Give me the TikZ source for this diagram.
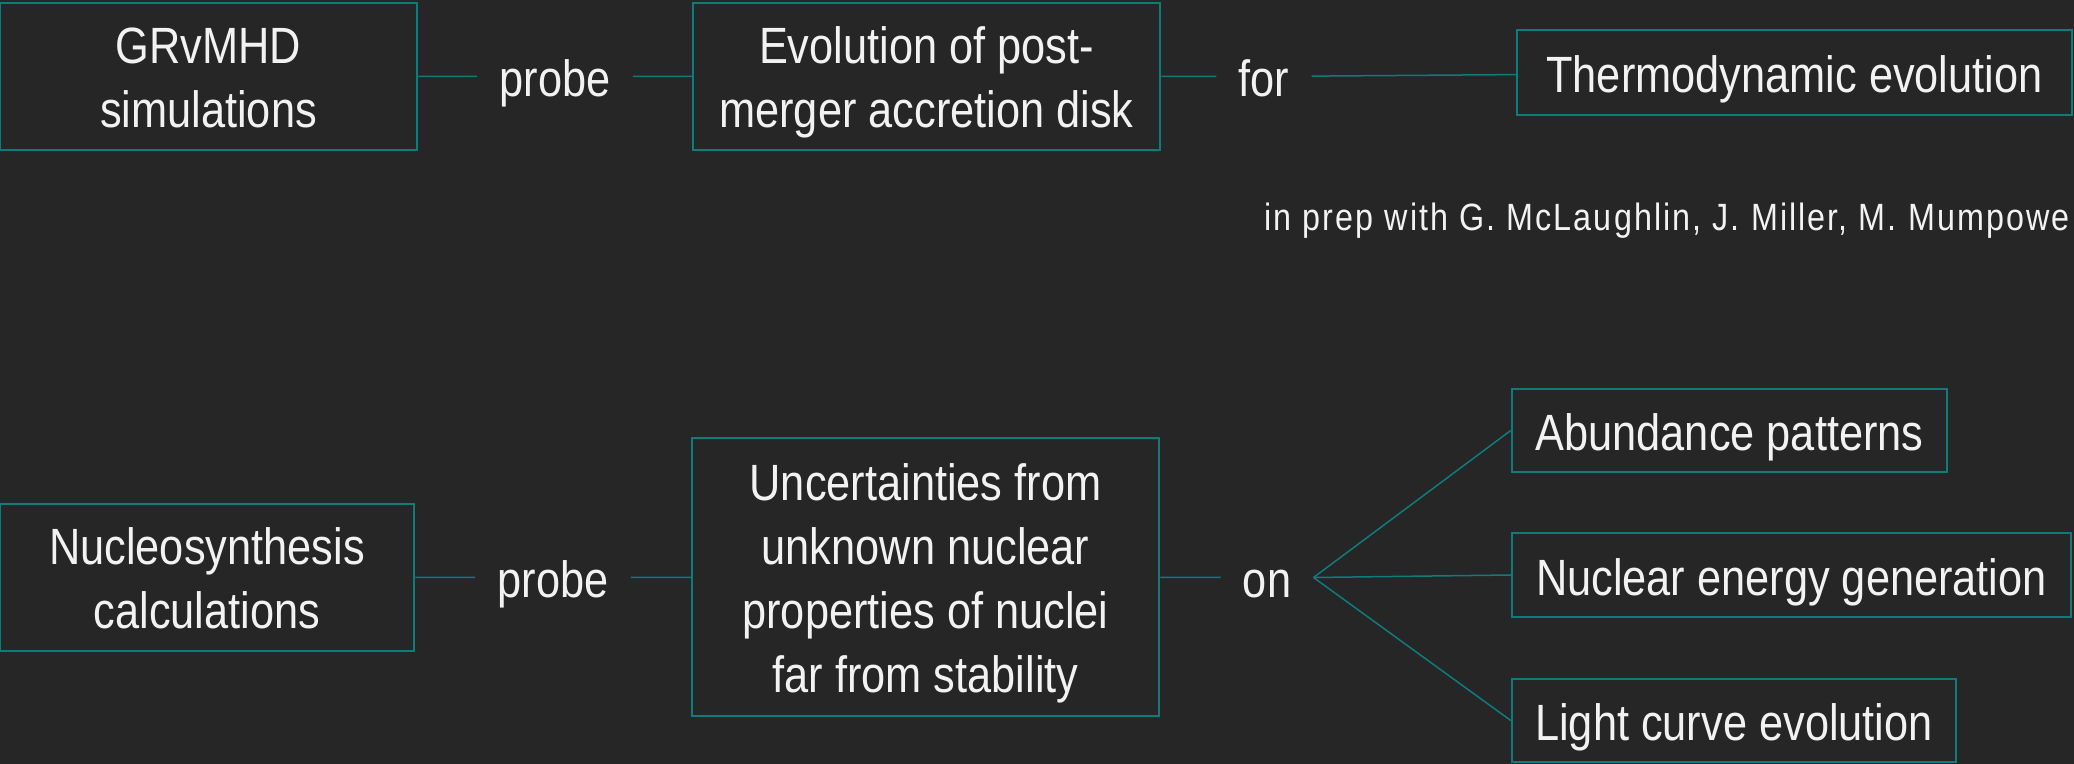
\documentclass[tikz,border=0pt]{standalone}
\usepackage{fontspec}
\setmainfont{Liberation Sans}[FakeStretch=0.85]
\newfontfamily\notizfont{Liberation Sans}[FakeStretch=0.85,LetterSpace=5.5]
\usepackage{xcolor}
\definecolor{folie-grau}{HTML}{262626}
\definecolor{folie-tuerkis}{HTML}{0E7C7B}
\definecolor{folie-weiss}{HTML}{F2F2F2}
% Stuetze fuer die erste Zeile mehrzeiliger Kaesten
\newcommand{\oben}{\rule{0pt}{25pt}}

\begin{document}
\begin{tikzpicture}[x=0.5pt,y=-0.5pt,
    schrift/.style={text=folie-weiss, font=\fontsize{25.5}{32}\selectfont,
        execute at begin node={\rule{0pt}{26.3pt}}, execute at end node={\rule[-6pt]{0pt}{0pt}}},
    kasten/.style={schrift, draw=folie-tuerkis, line width=1.25pt, fill=folie-grau,
        align=center, inner sep=0pt},
    verb/.style={schrift, inner xsep=11pt, inner ysep=2pt},
    linie/.style={folie-tuerkis, line width=0.75pt}]

    % Hintergrund und feste Groesse
    \fill[folie-grau] (0,0) rectangle (2074,764);
    \useasboundingbox (0,0) rectangle (2074,764);

    % Obere Reihe
    \node[kasten, minimum width=208.5pt, minimum height=73.5pt] (grmhd) at (208.5,76.5) {\oben GRvMHD\\simulations};
    \node[verb] (probeA) at (555,76.5) {probe};
    \node[kasten, minimum width=233.5pt, minimum height=73.5pt] (scheibe) at (926.5,76.5) {\oben Evolution of post-\\merger accretion disk};
    \node[verb] (fuer) at (1264,76.5) {for};
    \node[kasten, minimum width=277.5pt, minimum height=42.5pt] (thermo) at (1794.5,72.5) {Thermodynamic evolution};
    \node[anchor=base east, inner sep=0pt, text=folie-weiss, font=\notizfont\fontsize{19}{23}\selectfont] (notiz) at (2070,231)
        {in prep with G. McLaughlin, J. Miller, M. Mumpowe};

    % Untere Reihe
    \node[kasten, minimum width=207pt, minimum height=73.5pt] (nukleo) at (207,577.5) {\oben Nucleosynthesis\\calculations};
    \node[verb] (probeB) at (553,577.5) {probe};
    \node[kasten, minimum width=233.5pt, minimum height=139pt] (unsicher) at (925.5,577) {\oben Uncertainties from\\unknown nuclear\\properties of nuclei\\far from stability};
    \node[verb] (auf) at (1267,577.5) {on};
    \node[kasten, minimum width=217.5pt, minimum height=41.5pt] (haeufig) at (1729.5,430.5) {Abundance patterns};
    \node[kasten, minimum width=279.5pt, minimum height=42pt] (energie) at (1791.5,575) {Nuclear energy generation};
    \node[kasten, minimum width=222pt, minimum height=41.5pt] (licht) at (1734,720.5) {Light curve evolution};

    % Verbindungen
    \draw[linie] (grmhd) -- (probeA) -- (scheibe) -- (fuer) -- (thermo);
    \draw[linie] (nukleo) -- (probeB) -- (unsicher) -- (auf);
    \foreach \ziel in {haeufig,energie,licht} {
        \draw[linie] (auf.east) -- (\ziel.west);
    }
\end{tikzpicture}
\end{document}
